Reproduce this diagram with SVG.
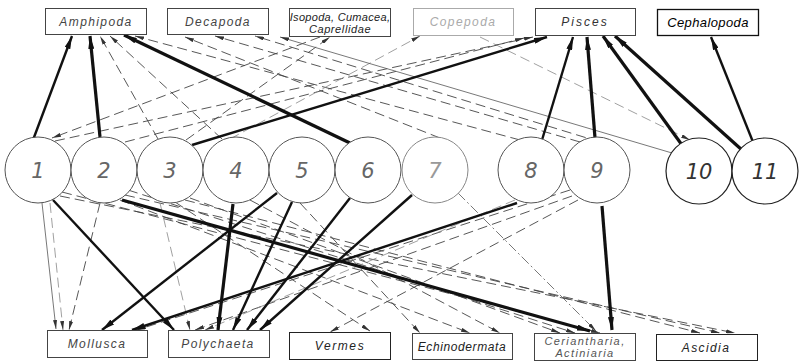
<svg xmlns="http://www.w3.org/2000/svg" width="800" height="362" viewBox="0 0 800 362">
<style>
.bx{fill:#fff;stroke:#444;stroke-width:1}
.bt{font-family:"Liberation Sans",Arial,sans-serif;font-style:italic;font-size:12px;letter-spacing:1.4px;fill:#444;text-anchor:middle}
.ci{fill:#fff;stroke:#555;stroke-width:1}
.cn{font-family:"DejaVu Sans","Liberation Sans",sans-serif;font-weight:200;font-style:italic;font-size:21px;fill:#666;text-anchor:middle}
.th{stroke:#111;stroke-width:2.4;fill:none;marker-end:url(#ah)}
.tk{stroke:#111;stroke-width:3.2;fill:none;marker-end:url(#ah)}
.tn{stroke:#555;stroke-width:0.8;fill:none;marker-end:url(#as)}
.dd{stroke:#444;stroke-width:0.9;stroke-dasharray:10 5;fill:none;marker-end:url(#as)}
.dl{stroke:#888;stroke-width:0.8;stroke-dasharray:10 5;fill:none;marker-end:url(#as)}
</style>
<defs>
<marker id="ah" viewBox="0 0 13 6" refX="13" refY="3" markerWidth="13" markerHeight="6" orient="auto" markerUnits="userSpaceOnUse"><path d="M0,0 L13,3 L0,6 z" fill="#111"/></marker>
<marker id="as" viewBox="0 0 9 4" refX="9" refY="2" markerWidth="9" markerHeight="4" orient="auto" markerUnits="userSpaceOnUse"><path d="M0,0 L9,2 L0,4 z" fill="#333"/></marker>
</defs>
<rect width="800" height="362" fill="#fff"/>
<g id="connectors">
<line class="dd" x1="55" y1="141" x2="533" y2="37"/>
<line class="dd" x1="125" y1="142" x2="524" y2="38"/>
<line class="dd" x1="158" y1="139" x2="100" y2="36"/>
<line class="dd" x1="222" y1="139" x2="110" y2="36"/>
<line class="dd" x1="520" y1="140" x2="135" y2="36"/>
<line class="dd" x1="440" y1="138" x2="185" y2="37"/>
<line class="dd" x1="580" y1="142" x2="215" y2="36"/>
<line class="dd" x1="600" y1="142" x2="255" y2="36"/>
<line class="dd" x1="186" y1="140" x2="330" y2="37"/>
<line class="dl" x1="230" y1="139" x2="420" y2="36"/>
<line class="dd" x1="320" y1="37" x2="52" y2="138"/>
<line class="dl" x1="480" y1="37" x2="690" y2="140"/>
<line class="dd" x1="60" y1="196" x2="735" y2="333"/>
<line class="dd" x1="62" y1="192" x2="600" y2="333"/>
<line class="dd" x1="125" y1="195" x2="720" y2="333"/>
<line class="dd" x1="128" y1="190" x2="575" y2="333"/>
<line class="dd" x1="120" y1="200" x2="470" y2="333"/>
<line class="dd" x1="185" y1="200" x2="700" y2="333"/>
<line class="dd" x1="190" y1="198" x2="560" y2="333"/>
<line class="dd" x1="175" y1="202" x2="370" y2="331"/>
<line class="dd" x1="250" y1="200" x2="500" y2="333"/>
<line class="dl" x1="50" y1="203" x2="63" y2="330"/>
<line class="dd" x1="100" y1="203" x2="69" y2="330"/>
<line class="dd" x1="570" y1="190" x2="137" y2="330"/>
<line class="dd" x1="572" y1="196" x2="195" y2="330"/>
<line class="dl" x1="515" y1="200" x2="205" y2="330"/>
<line class="dd" x1="578" y1="200" x2="330" y2="332"/>
<line class="dl" x1="160" y1="203" x2="190" y2="330"/>
<line class="dd" x1="300" y1="203" x2="420" y2="333"/>
<line class="tn" x1="42" y1="203" x2="56" y2="329"/>
<line class="tn" x1="672" y1="153" x2="280" y2="37"/>
<line class="tn" x1="458" y1="193" x2="596" y2="331" stroke-dasharray="10 3 2 3"/>
<line class="th" x1="33" y1="140" x2="72" y2="36"/>
<line class="tk" x1="100" y1="137" x2="90" y2="36"/>
<line class="tk" x1="350" y1="143" x2="124" y2="35"/>
<line class="th" x1="192" y1="145" x2="547" y2="37"/>
<line class="th" x1="542" y1="140" x2="573" y2="37"/>
<line class="tk" x1="595" y1="138" x2="587" y2="37"/>
<line class="tk" x1="682" y1="145" x2="603" y2="36"/>
<line class="tk" x1="742" y1="150" x2="615" y2="36"/>
<line class="th" x1="753" y1="142" x2="711" y2="37"/>
<line class="th" x1="53" y1="200" x2="174" y2="330"/>
<line class="tk" x1="122" y1="200" x2="590" y2="331"/>
<line class="tk" x1="233" y1="204" x2="218" y2="330"/>
<line class="th" x1="277" y1="193" x2="102" y2="330"/>
<line class="th" x1="292" y1="202" x2="233" y2="330"/>
<line class="th" x1="350" y1="198" x2="247" y2="330"/>
<line class="th" x1="412" y1="195" x2="260" y2="330"/>
<line class="th" x1="517" y1="203" x2="132" y2="330"/>
<line class="tk" x1="602" y1="206" x2="612" y2="330"/>
</g>
<g id="amphipoda"><rect class="bx" x="45.5" y="8.5" width="101" height="26"/><text class="bt" x="96" y="26">Amphipoda</text></g>
<g id="decapoda"><rect class="bx" x="167.5" y="8.5" width="101" height="26"/><text class="bt" x="218" y="26">Decapoda</text></g>
<g id="isopoda"><rect class="bx" x="289.5" y="8.5" width="101" height="28"/><text class="bt" x="340" y="21" style="font-size:11px;letter-spacing:0.3px;fill:#222">Isopoda, Cumacea,</text><text class="bt" x="340" y="33" style="font-size:11px;letter-spacing:0.6px;fill:#222">Caprellidae</text></g>
<g id="copepoda"><rect class="bx" x="413.5" y="8.5" width="100" height="27" style="stroke:#aaa"/><text class="bt" x="463" y="26" style="fill:#aaa">Copepoda</text></g>
<g id="pisces"><rect class="bx" x="535.5" y="8.5" width="100" height="27"/><text class="bt" x="585" y="26" style="letter-spacing:2px;fill:#333">Pisces</text></g>
<g id="cephalopoda"><rect class="bx" x="657.5" y="9.5" width="101" height="26" style="stroke:#111;stroke-width:1.3"/><text class="bt" x="708" y="27" style="font-size:13px;letter-spacing:0.4px;fill:#000">Cephalopoda</text></g>
<g id="c1"><circle class="ci" cx="38" cy="170" r="33"/><text class="cn" x="38" y="178">1</text></g>
<g id="c2"><circle class="ci" cx="104" cy="170" r="33"/><text class="cn" x="104" y="178">2</text></g>
<g id="c3"><circle class="ci" cx="170" cy="170" r="33"/><text class="cn" x="170" y="178">3</text></g>
<g id="c4"><circle class="ci" cx="236" cy="170" r="33"/><text class="cn" x="236" y="178">4</text></g>
<g id="c5"><circle class="ci" cx="302" cy="170" r="33"/><text class="cn" x="302" y="178">5</text></g>
<g id="c6"><circle class="ci" cx="368" cy="170" r="33"/><text class="cn" x="368" y="178">6</text></g>
<g id="c7"><circle class="ci" cx="435" cy="170" r="33" style="stroke:#888"/><text class="cn" x="435" y="178" style="fill:#999">7</text></g>
<g id="c8"><circle class="ci" cx="531" cy="170" r="33"/><text class="cn" x="531" y="178">8</text></g>
<g id="c9"><circle class="ci" cx="597" cy="170" r="33"/><text class="cn" x="597" y="178">9</text></g>
<g id="c10"><circle class="ci" cx="699" cy="171" r="33" style="stroke:#222;stroke-width:1.2"/><text class="cn" x="699" y="179" style="fill:#333">10</text></g>
<g id="c11"><circle class="ci" cx="765" cy="171" r="33" style="stroke:#222;stroke-width:1.2"/><text class="cn" x="765" y="179" style="fill:#333">11</text></g>
<g id="mollusca"><rect class="bx" x="47.5" y="330.5" width="100" height="27"/><text class="bt" x="97" y="348">Mollusca</text></g>
<g id="polychaeta"><rect class="bx" x="168.5" y="330.5" width="101" height="27"/><text class="bt" x="218" y="348">Polychaeta</text></g>
<g id="vermes"><rect class="bx" x="289.5" y="332.5" width="101" height="27" style="stroke:#222"/><text class="bt" x="340" y="350" style="fill:#222;letter-spacing:1.6px">Vermes</text></g>
<g id="echinodermata"><rect class="bx" x="412.5" y="333.5" width="100" height="26"/><text class="bt" x="462" y="351" style="letter-spacing:0.6px;fill:#222">Echinodermata</text></g>
<g id="ceriantharia"><rect class="bx" x="534.5" y="333.5" width="101" height="27"/><text class="bt" x="585" y="345" style="font-size:11px;fill:#555">Ceriantharia,</text><text class="bt" x="585" y="357" style="font-size:11px;fill:#555">Actiniaria</text></g>
<g id="ascidia"><rect class="bx" x="656.5" y="334.5" width="101" height="26" style="stroke:#222"/><text class="bt" x="706" y="352" style="fill:#222">Ascidia</text></g>
</svg>
